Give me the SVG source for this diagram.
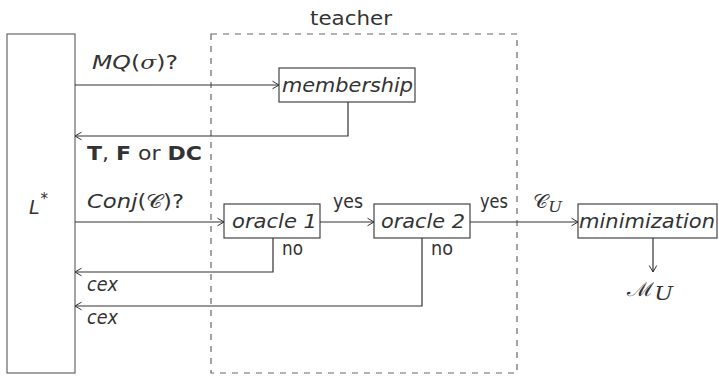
<svg xmlns="http://www.w3.org/2000/svg" width="719" height="376" viewBox="0 0 719 376">
  <style>
    .box { fill: #ffffff; stroke: #444444; stroke-width: 1.2; }
    .learner { fill: #ffffff; stroke: #666666; stroke-width: 1.2; }
    .team { fill: none; stroke: #666666; stroke-width: 1.2; stroke-dasharray: 6 6; }
    .wire { fill: none; stroke: #333333; stroke-width: 1.2; }
    text { font-family: "DejaVu Sans", "Open Sans", sans-serif; font-size: 19px; fill: #333333; }
    .it { font-style: italic; }
    .bf { font-weight: bold; }
    .math { font-family: "DejaVu Serif", "Liberation Serif", serif; }
  </style>
  <defs>
    <marker id="arr" markerUnits="userSpaceOnUse" markerWidth="10" markerHeight="10" viewBox="-8 -5 10 10" refX="0" refY="0" orient="auto">
      <path d="M-6.5,-3.8 L0,0 L-6.5,3.8" fill="none" stroke="#333333" stroke-width="1"/>
    </marker>
  </defs>

  <!-- teacher boundary -->
  <g id="teacher">
    <rect class="team" x="211" y="34" width="306" height="339"/>
    <text x="310" y="25" font-size="20" textLength="82" lengthAdjust="spacingAndGlyphs">teacher</text>
  </g>

  <!-- learner -->
  <g id="lstar">
    <rect class="learner" x="7" y="34" width="68" height="339"/>
    <text class="it" x="29" y="214" font-size="25">L<tspan font-style="normal" font-size="15" dx="1" dy="-10">*</tspan></text>
  </g>

  <g id="membership">
    <rect class="box" x="279" y="68" width="136" height="34"/>
    <text class="it" x="282" y="92" textLength="131" lengthAdjust="spacingAndGlyphs">membership</text>
  </g>

  <g id="oracle1">
    <rect class="box" x="224" y="204" width="96" height="34"/>
    <text class="it" x="232" y="228" textLength="85" lengthAdjust="spacingAndGlyphs">oracle 1</text>
  </g>

  <g id="oracle2">
    <rect class="box" x="374" y="204" width="96" height="34"/>
    <text class="it" x="381" y="228" textLength="84" lengthAdjust="spacingAndGlyphs">oracle 2</text>
  </g>

  <g id="minimization">
    <rect class="box" x="578" y="204" width="139" height="34"/>
    <text class="it" x="579" y="228" textLength="136" lengthAdjust="spacingAndGlyphs">minimization</text>
  </g>

  <g id="connectors">
    <line class="wire" x1="75" y1="85" x2="279" y2="85" marker-end="url(#arr)"/>
    <polyline class="wire" points="348,102 348,136 75,136" marker-end="url(#arr)"/>
    <line class="wire" x1="75" y1="222" x2="224" y2="222" marker-end="url(#arr)"/>
    <line class="wire" x1="320" y1="222" x2="374" y2="222" marker-end="url(#arr)"/>
    <line class="wire" x1="470" y1="222" x2="578" y2="222" marker-end="url(#arr)"/>
    <polyline class="wire" points="273,238 273,272 75,272" marker-end="url(#arr)"/>
    <polyline class="wire" points="422,238 422,306 75,306" marker-end="url(#arr)"/>
    <line class="wire" x1="653" y1="238" x2="653" y2="272" marker-end="url(#arr)"/>
  </g>

  <g id="labels">
    <text x="92" y="69" font-size="21" textLength="86" lengthAdjust="spacingAndGlyphs"><tspan class="it">MQ</tspan>(<tspan class="math it">σ</tspan>)?</text>
    <text x="87" y="160" font-size="20" textLength="115" lengthAdjust="spacingAndGlyphs"><tspan class="bf">T</tspan>, <tspan class="bf">F</tspan> or <tspan class="bf">DC</tspan></text>
    <text x="87" y="208" font-size="21" textLength="97" lengthAdjust="spacingAndGlyphs"><tspan class="it">Conj</tspan>(<tspan class="math">𝒞</tspan>)?</text>
    <text x="333" y="208" textLength="30" lengthAdjust="spacingAndGlyphs">yes</text>
    <text x="480" y="208" textLength="28" lengthAdjust="spacingAndGlyphs">yes</text>
    <text class="math" x="533" y="208" font-size="23" textLength="29" lengthAdjust="spacingAndGlyphs">𝒞<tspan class="it" font-size="15" dy="4">U</tspan></text>
    <text x="282" y="255" textLength="21" lengthAdjust="spacingAndGlyphs">no</text>
    <text x="431" y="255" textLength="22" lengthAdjust="spacingAndGlyphs">no</text>
    <text class="it" x="87" y="291" font-size="18" textLength="31" lengthAdjust="spacingAndGlyphs">cex</text>
    <text class="it" x="87" y="324" font-size="18" textLength="31" lengthAdjust="spacingAndGlyphs">cex</text>
    <text class="math" x="627" y="296" font-size="27" textLength="46" lengthAdjust="spacingAndGlyphs">ℳ<tspan class="it" font-size="18" dy="4">U</tspan></text>
  </g>
</svg>
